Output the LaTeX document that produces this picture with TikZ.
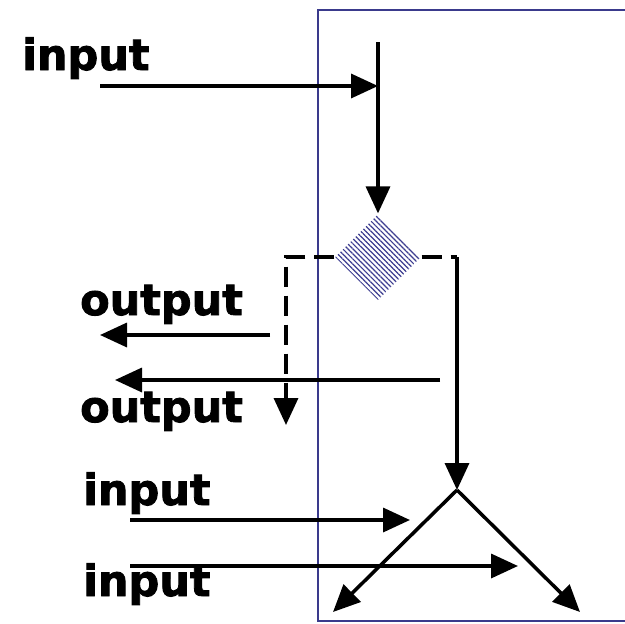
\documentclass[tikz,border=0pt]{standalone}
\usepackage{fontspec}
\setmainfont{DejaVu Sans}[BoldFeatures={FakeBold=2}]
\usetikzlibrary{arrows.meta,patterns.meta,shapes.geometric}
\definecolor{boxc}{HTML}{3A3A8C}
\definecolor{hatchc}{HTML}{3C3C90}
\begin{document}
\begin{tikzpicture}[x=1pt,y=-1pt,
  arr/.style={line width=3.5pt,-{Triangle[length=27pt,width=24pt]}},
  dashln/.style={line width=3.5pt,dash pattern=on 20pt off 9pt},
  lbl/.style={font=\fontsize{43}{43}\selectfont\bfseries,anchor=base west,inner sep=0pt}]
\useasboundingbox (0,0) rectangle (624,624);
% frame
\draw[boxc,line width=2.4pt] (630,10) -- (318,10) -- (318,621) -- (630,621);
% diamond
\node[diamond,minimum size=86pt,inner sep=0pt,
  pattern={Lines[angle=-45,distance=3.6pt,line width=1.2pt]},pattern color=hatchc] (d) at (378,257) {};
% labels
\node[lbl] (in1) at (22,70) {input};
\node[lbl] (out1) at (80,315) {output};
\node[lbl] (out2) at (80,422) {output};
\node[lbl] (in3) at (83,505) {input};
\node[lbl] (in4) at (83,596) {input};
% coordinates
\coordinate (a1) at (100,86);
\coordinate (j1) at (378,86);
\coordinate (v1) at (378,42);
\coordinate (cl) at (286,257);
\coordinate (cl2) at (286,425);
\coordinate (cr) at (457,257);
\coordinate (apex) at (457,490);
\coordinate (o1s) at (270,335);
\coordinate (o1e) at (100,335);
\coordinate (o2s) at (440,380);
\coordinate (o2e) at (115,380);
\coordinate (i3s) at (130,520);
\coordinate (i3e) at (410,520);
\coordinate (i4s) at (130,566);
\coordinate (i4e) at (518,566);
\coordinate (bl) at (333,612);
\coordinate (br) at (580,612);
% connectors
\draw[arr] (a1) -- (j1);
\draw[arr] (v1) -- (d.north);
\draw[dashln,-{Triangle[length=27pt,width=24pt]}] (d.west) -- (cl) -- (cl2);
\draw[dashln] (d.east) -- (cr);
\draw[arr] (cr) -- (apex);
\draw[arr] (o1s) -- (o1e);
\draw[arr] (o2s) -- (o2e);
\draw[arr] (i3s) -- (i3e);
\draw[arr] (i4s) -- (i4e);
\draw[arr] (apex) -- (bl);
\draw[arr] (apex) -- (br);
\end{tikzpicture}
\end{document}
